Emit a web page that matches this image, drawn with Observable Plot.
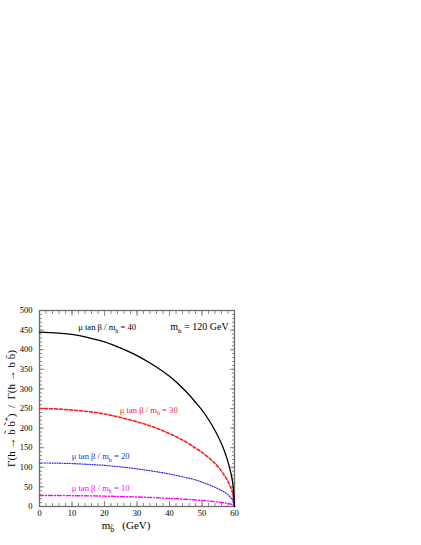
<!DOCTYPE html>
<html>
<head>
<meta charset="utf-8">
<script src="https://cdn.jsdelivr.net/npm/d3@7"></script>
<script src="https://cdn.jsdelivr.net/npm/@observablehq/plot@0.6"></script>
<style>
  html, body { margin: 0; padding: 0; background: #fff; }
  svg text { white-space: pre; }
</style>
</head>
<body>
<div id="chart"></div>
<script>
// sbottom mass grid (GeV)
const mSb = [0, 5, 10, 15, 20, 25, 30, 35, 40, 45, 48, 50, 52, 54, 56, 57, 58, 59, 59.5, 60];
// ratio Gamma(h -> sb sb*) / Gamma(h -> b bbar)
const ratio40 = [445, 443, 439, 431, 420, 404, 385, 361, 332, 294, 266, 246, 222, 194, 160, 139, 114, 81, 57, 0];
const ratio30 = [250, 249, 246, 242, 236, 227, 216, 203, 186, 165, 149, 138, 125, 110, 90, 78, 64, 45, 32, 0];
const ratio20 = [111, 110.7, 109.5, 107.5, 105, 101, 96, 90, 83, 74, 68, 62, 56, 49, 41, 36, 30, 21, 15, 0];
const ratio10 = [28, 27.9, 27.6, 27.2, 26.4, 25.4, 24.2, 22.7, 20.8, 18.5, 16.7, 15.5, 14, 12.2, 10.2, 9, 7.7, 5.5, 4, 0];

const seriesNames = ["μ tan β / m_{h} = 40", "μ tan β / m_{h} = 30", "μ tan β / m_{h} = 20", "μ tan β / m_{h} = 10"];
const noteText = "m_{h} = 120 GeV";
const xTicks = [0, 10, 20, 30, 40, 50, 60];
const xMinor = d3.range(0, 61, 2);
const yTicks = [0, 50, 100, 150, 200, 250, 300, 350, 400, 450, 500];
const yMinor = d3.range(0, 501, 10);
const xLabel = "m_{b̃}   (GeV)";
const yLabel = "Γ(h → b̃ b̃^{*})  /  Γ(h → b b̄)";

const colors = ["#000000", "#ff1a1a", "#2a2ae8", "#ff00ff"];
const rows = (vals) => mSb.map((m, i) => ({m, v: vals[i]}));

const tickGray = "#8c8c8c";
function tickAxes(ticks, minor, dim) {
  const ax = dim === "x" ? Plot.axisX : Plot.axisY;
  const anchors = dim === "x" ? ["bottom", "top"] : ["left", "right"];
  const out = [];
  for (const a of anchors) {
    out.push(ax(minor, {anchor: a, tickSize: -3, fill: "none", stroke: tickGray, label: null, tickFormat: () => ""}));
    out.push(ax(ticks, {anchor: a, tickSize: -5, fill: "none", stroke: tickGray, label: null, tickFormat: () => ""}));
  }
  return out;
}

const chart = Plot.plot({
  width: 421,
  height: 545,
  marginLeft: 39,
  marginRight: 187,
  marginTop: 310,
  marginBottom: 39,
  style: {fontFamily: "'Liberation Serif', 'DejaVu Serif', serif", fontSize: "8.5px", background: "#fff", color: "#000"},
  x: {domain: [0, 60]},
  y: {domain: [0, 500]},
  marks: [
    ...tickAxes(xTicks, xMinor, "x"),
    ...tickAxes(yTicks, yMinor, "y"),
    Plot.axisX(xTicks, {anchor: "bottom", tickSize: 0, tickPadding: 3, label: null, fill: "#000"}),
    Plot.axisY(yTicks, {anchor: "left", tickSize: 0, tickPadding: 7, label: null, fill: "#000"}),
    Plot.frame({stroke: "#6e6e6e", strokeWidth: 1.3}),
    Plot.line(rows(ratio10), {x: "m", y: "v", stroke: colors[3], strokeWidth: 1.4, strokeDasharray: "4,2,1,2", curve: "catmull-rom"}),
    Plot.line(rows(ratio20), {x: "m", y: "v", stroke: colors[2], strokeWidth: 1.2, strokeDasharray: "1,1.5", curve: "catmull-rom"}),
    Plot.line(rows(ratio30), {x: "m", y: "v", stroke: colors[1], strokeWidth: 1.6, strokeDasharray: "3,2", curve: "catmull-rom"}),
    Plot.line(rows(ratio40), {x: "m", y: "v", stroke: colors[0], strokeWidth: 1.3, curve: "catmull-rom"}),
    Plot.text([seriesNames[0]], {x: 11.9, y: 450, text: d => d, fill: colors[0], textAnchor: "start", lineAnchor: "bottom", fontSize: 8.6}),
    Plot.text([seriesNames[1]], {x: 24.7, y: 239, text: d => d, fill: colors[1], textAnchor: "start", lineAnchor: "bottom", fontSize: 8.6}),
    Plot.text([seriesNames[2]], {x: 9.9, y: 121, text: d => d, fill: colors[2], textAnchor: "start", lineAnchor: "bottom", fontSize: 8.6}),
    Plot.text([seriesNames[3]], {x: 9.9, y: 40, text: d => d, fill: colors[3], textAnchor: "start", lineAnchor: "bottom", fontSize: 8.6}),
    Plot.text([noteText], {x: 58.2, y: 450, text: d => d, fill: "#000", textAnchor: "end", lineAnchor: "bottom", fontSize: 10}),
    Plot.text([xLabel], {frameAnchor: "bottom", dy: 22, dx: -11, text: d => d, fill: "#000", textAnchor: "middle", lineAnchor: "bottom", fontSize: 11}),
    Plot.text([yLabel], {frameAnchor: "left", dx: -28, dy: 0, rotate: -90, text: d => d, fill: "#000", textAnchor: "middle", fontSize: 11})
  ]
});

// render sub/superscripts marked as _{..} and ^{..}
d3.select(chart).selectAll("text").each(function () {
  const el = this;
  if (el.querySelector("tspan")) return;
  const s = el.textContent;
  if (!/[_^]\{/.test(s)) return;
  const re = /([_^])\{([^}]*)\}/g;
  let last = 0, m, parts = [];
  while ((m = re.exec(s))) {
    if (m.index > last) parts.push({t: s.slice(last, m.index), k: ""});
    parts.push({t: m[2], k: m[1]});
    last = re.lastIndex;
  }
  if (last < s.length) parts.push({t: s.slice(last), k: ""});
  el.textContent = "";
  let shift = 0;
  for (const p of parts) {
    const ts = document.createElementNS("http://www.w3.org/2000/svg", "tspan");
    const target = p.k === "_" ? 0.3 : p.k === "^" ? -0.4 : 0;
    const d = target - shift;
    if (p.k) ts.setAttribute("font-size", "70%");
    if (d !== 0) ts.setAttribute("dy", (p.k ? d / 0.7 : d).toFixed(2) + "em");
    ts.textContent = p.t;
    el.appendChild(ts);
    shift = target;
  }
});

document.getElementById("chart").appendChild(chart);
</script>
</body>
</html>
